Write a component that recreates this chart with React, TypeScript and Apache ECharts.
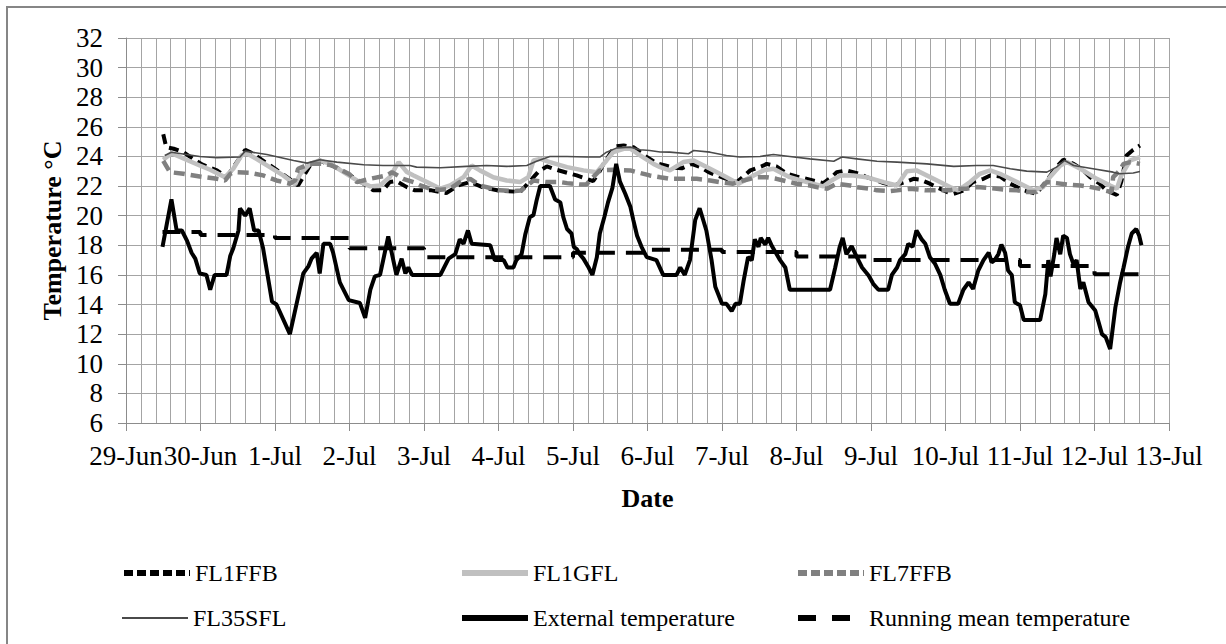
import React, { useEffect, useRef } from "react";
import * as echarts from "echarts";

// Day offsets are days since 29-Jun 00:00
const dateLabels = ["29-Jun", "30-Jun", "1-Jul", "2-Jul", "3-Jul", "4-Jul", "5-Jul", "6-Jul", "7-Jul", "8-Jul", "9-Jul", "10-Jul", "11-Jul", "12-Jul", "13-Jul"];
const seriesNames = ["FL1FFB", "FL1GFL", "FL7FFB", "FL35SFL", "External temperature", "Running mean temperature"];

const fl1ffb = [[0.50,25.5],[0.54,24.63],[0.64,24.52],[0.77,24.29],[0.90,23.84],[1.02,23.46],[1.22,23.06],[1.35,22.6],[1.60,24.45],[1.71,24.18],[1.82,23.78],[1.98,23.24],[2.11,22.79],[2.25,22.27],[2.31,22.04],[2.47,23.39],[2.60,23.73],[2.83,23.24],[3.01,22.72],[3.19,22.16],[3.32,21.71],[3.45,21.71],[3.54,22.27],[3.63,22.34],[3.77,21.93],[3.88,21.71],[4.10,21.71],[4.30,21.53],[4.46,22.04],[4.62,22.27],[4.80,21.9],[5.00,21.7],[5.29,21.6],[5.47,22.6],[5.54,23.0],[5.65,23.33],[5.78,23.1],[5.92,22.9],[6.05,22.72],[6.27,22.34],[6.34,22.83],[6.41,23.5],[6.56,24.67],[6.68,24.74],[6.81,24.63],[6.99,23.96],[7.12,23.55],[7.24,23.39],[7.35,23.24],[7.46,23.2],[7.59,23.5],[7.71,23.28],[7.82,22.94],[7.93,22.72],[8.11,22.38],[8.20,22.27],[8.38,23.06],[8.56,23.39],[8.60,23.5],[8.73,23.33],[8.87,22.83],[9.00,22.65],[9.18,22.43],[9.36,22.2],[9.47,22.6],[9.54,22.94],[9.67,23.06],[9.85,22.83],[9.94,22.6],[10.08,22.38],[10.17,22.2],[10.30,22.04],[10.46,22.27],[10.57,22.49],[10.66,22.43],[10.79,22.16],[10.88,21.93],[11.02,21.6],[11.11,21.48],[11.24,21.7],[11.37,22.27],[11.51,22.49],[11.60,22.72],[11.73,22.65],[11.87,22.16],[12.05,21.71],[12.22,21.48],[12.36,22.38],[12.49,23.28],[12.58,23.78],[12.72,23.5],[12.85,23.06],[12.94,22.6],[13.07,22.16],[13.16,21.71],[13.30,21.4],[13.36,22.3],[13.43,24.07],[13.52,24.45],[13.61,24.74]];

const fl1gfl = [[0.50,23.78],[0.61,24.22],[0.81,23.78],[0.99,23.39],[1.13,23.1],[1.33,22.6],[1.44,23.17],[1.55,24.07],[1.62,24.22],[1.75,23.84],[1.93,23.28],[2.11,22.72],[2.27,22.11],[2.34,22.83],[2.47,23.5],[2.60,23.73],[2.74,23.5],[2.92,22.94],[3.10,22.38],[3.28,21.98],[3.41,22.04],[3.54,22.6],[3.66,23.62],[3.77,22.95],[3.86,22.72],[4.04,22.27],[4.22,21.82],[4.35,22.04],[4.53,22.6],[4.64,23.39],[4.75,23.06],[4.93,22.6],[5.11,22.38],[5.29,22.27],[5.40,22.6],[5.47,23.73],[5.56,23.84],[5.69,23.62],[5.92,23.28],[6.14,23.06],[6.32,22.94],[6.45,23.73],[6.54,24.29],[6.68,24.52],[6.77,24.52],[6.90,24.07],[7.08,23.5],[7.17,23.28],[7.30,23.06],[7.48,23.62],[7.62,23.73],[7.84,23.17],[8.06,22.6],[8.22,22.16],[8.38,22.6],[8.56,23.06],[8.69,23.17],[8.91,22.6],[9.14,22.27],[9.36,21.98],[9.47,22.38],[9.59,22.72],[9.76,22.72],[9.94,22.6],[10.17,22.27],[10.35,22.04],[10.48,23.0],[10.61,23.06],[10.84,22.49],[11.06,21.93],[11.17,21.71],[11.33,22.27],[11.46,22.83],[11.60,23.06],[11.73,22.83],[11.96,22.27],[12.18,21.71],[12.31,21.93],[12.40,22.6],[12.54,23.39],[12.63,23.62],[12.81,23.17],[13.03,22.49],[13.21,22.04],[13.30,21.82],[13.36,22.72],[13.48,23.73],[13.61,23.96]];

const fl7ffb = [[0.50,23.7],[0.59,22.94],[0.77,22.83],[0.99,22.65],[1.22,22.49],[1.33,22.38],[1.40,22.83],[1.46,22.94],[1.66,22.9],[1.84,22.72],[2.02,22.38],[2.20,22.16],[2.27,22.38],[2.31,23.17],[2.47,23.5],[2.65,23.5],[2.76,23.4],[3.00,22.8],[3.10,22.27],[3.28,22.5],[3.50,22.72],[3.57,22.94],[3.72,22.49],[3.86,22.27],[3.95,22.04],[4.08,21.82],[4.22,21.75],[4.35,21.82],[4.48,22.27],[4.62,22.49],[4.75,22.04],[4.93,21.82],[5.02,21.71],[5.20,21.66],[5.30,21.7],[5.47,22.38],[5.65,22.27],[5.83,22.27],[5.92,22.2],[6.09,22.11],[6.18,22.11],[6.25,22.5],[6.36,23.06],[6.54,23.1],[6.77,23.06],[6.86,22.94],[7.03,22.72],[7.17,22.6],[7.30,22.49],[7.48,22.49],[7.66,22.49],[7.84,22.38],[7.97,22.27],[8.15,22.16],[8.29,22.38],[8.38,22.49],[8.47,22.6],[8.60,22.6],[8.73,22.49],[8.91,22.27],[9.00,22.16],[9.18,22.04],[9.27,21.93],[9.41,21.82],[9.54,22.16],[9.72,22.04],[9.81,21.93],[9.99,21.82],[10.08,21.71],[10.26,21.66],[10.35,21.71],[10.52,21.82],[10.75,21.71],[11.06,21.71],[11.15,21.82],[11.28,21.82],[11.42,21.93],[11.55,21.88],[11.69,21.82],[11.82,21.75],[11.96,21.71],[12.09,21.6],[12.22,21.6],[12.36,22.27],[12.49,22.2],[12.63,22.11],[12.81,22.04],[12.90,21.98],[13.07,21.82],[13.12,21.71],[13.23,21.6],[13.25,22.6],[13.34,23.06],[13.39,23.5],[13.48,23.62],[13.61,23.5]];

const fl35sfl = [[0.52,24.07],[0.61,24.29],[0.99,24.0],[1.22,23.91],[1.53,23.96],[1.60,24.36],[1.89,24.13],[2.25,23.73],[2.43,23.55],[2.60,23.78],[2.83,23.62],[3.19,23.44],[3.45,23.39],[3.81,23.39],[3.90,23.28],[4.22,23.24],[4.57,23.33],[4.84,23.39],[5.11,23.33],[5.38,23.39],[5.51,23.68],[5.69,24.0],[5.92,24.0],[6.18,23.96],[6.36,23.96],[6.45,24.29],[6.59,24.58],[6.77,24.63],[6.90,24.45],[7.03,24.4],[7.17,24.3],[7.30,24.29],[7.55,24.18],[7.62,24.4],[7.84,24.29],[8.06,24.07],[8.24,23.96],[8.51,24.0],[8.69,24.13],[8.91,24.0],[9.18,23.84],[9.50,23.68],[9.61,23.96],[9.81,23.84],[10.08,23.68],[10.35,23.62],[10.75,23.5],[11.11,23.33],[11.42,23.39],[11.64,23.39],[11.87,23.17],[12.09,23.01],[12.36,22.94],[12.49,23.28],[12.60,23.73],[12.72,23.39],[12.98,23.17],[13.25,22.94],[13.34,22.83],[13.52,22.88],[13.61,22.99]];

const externalTemp = [[0.49,17.9],[0.61,21.1],[0.68,19.0],[0.75,19.0],[0.82,18.3],[0.88,17.5],[0.93,17.1],[0.99,16.1],[1.08,16.0],[1.13,15.0],[1.19,16.0],[1.35,16.0],[1.40,17.3],[1.44,17.8],[1.51,19.0],[1.53,20.5],[1.60,20.0],[1.66,20.5],[1.72,19.0],[1.78,19.0],[1.84,17.8],[1.96,14.2],[2.02,14.0],[2.20,12.0],[2.38,16.1],[2.45,16.6],[2.49,17.1],[2.56,17.5],[2.60,16.1],[2.65,18.1],[2.74,18.1],[2.78,17.5],[2.87,15.5],[2.99,14.3],[3.14,14.1],[3.21,13.1],[3.28,15.0],[3.34,15.9],[3.41,16.0],[3.52,18.6],[3.63,16.0],[3.70,17.1],[3.75,16.1],[3.79,16.5],[3.84,16.0],[4.22,16.0],[4.33,17.1],[4.42,17.4],[4.48,18.4],[4.53,18.1],[4.59,19.0],[4.64,18.1],[4.89,18.0],[4.95,17.0],[5.07,17.0],[5.12,16.5],[5.20,16.5],[5.24,17.0],[5.31,17.4],[5.36,18.75],[5.42,19.9],[5.47,20.05],[5.51,21.0],[5.56,22.0],[5.69,22.0],[5.76,21.1],[5.83,20.9],[5.87,19.9],[5.92,19.1],[5.98,18.8],[6.01,17.9],[6.05,17.75],[6.09,17.4],[6.14,17.1],[6.21,16.5],[6.26,16.0],[6.32,17.2],[6.36,18.8],[6.42,19.9],[6.47,20.9],[6.53,21.9],[6.58,23.5],[6.63,22.3],[6.70,21.5],[6.77,20.6],[6.81,19.7],[6.86,18.65],[6.92,17.9],[6.99,17.2],[7.12,17.0],[7.21,16.0],[7.39,16.0],[7.44,16.5],[7.50,16.0],[7.57,17.0],[7.64,19.7],[7.70,20.5],[7.79,19.0],[7.86,17.0],[7.91,15.2],[7.95,14.7],[8.00,14.05],[8.06,14.05],[8.13,13.55],[8.18,14.05],[8.24,14.05],[8.29,15.6],[8.35,17.2],[8.40,17.0],[8.44,18.4],[8.49,17.9],[8.52,18.5],[8.58,18.05],[8.62,18.5],[8.67,17.95],[8.71,17.6],[8.78,17.0],[8.85,16.5],[8.91,15.0],[9.45,15.0],[9.52,16.5],[9.58,17.9],[9.62,18.5],[9.67,17.4],[9.74,17.95],[9.81,17.2],[9.88,16.5],[9.97,15.95],[10.03,15.4],[10.10,15.0],[10.23,15.0],[10.28,16.0],[10.35,16.5],[10.39,17.0],[10.46,17.4],[10.50,18.1],[10.56,17.9],[10.61,19.0],[10.68,18.4],[10.73,18.1],[10.79,17.2],[10.86,16.75],[10.93,16.0],[10.99,15.0],[11.06,14.05],[11.17,14.05],[11.24,15.0],[11.31,15.5],[11.37,15.05],[11.44,16.3],[11.51,17.0],[11.58,17.5],[11.62,16.85],[11.66,17.0],[11.71,17.4],[11.75,18.05],[11.80,17.5],[11.84,16.3],[11.89,16.0],[11.93,14.15],[12.00,13.95],[12.05,12.95],[12.27,12.95],[12.34,14.7],[12.38,17.0],[12.41,15.9],[12.46,17.4],[12.49,18.5],[12.54,17.4],[12.58,18.65],[12.63,18.5],[12.67,17.4],[12.72,16.7],[12.76,17.0],[12.81,15.05],[12.85,15.5],[12.92,14.15],[13.01,13.6],[13.05,12.9],[13.10,12.0],[13.15,11.8],[13.21,11.0],[13.28,13.8],[13.34,15.4],[13.39,16.5],[13.45,17.9],[13.50,18.8],[13.56,19.1],[13.60,18.65],[13.63,18.0]];

// daily running mean, value holds until next entry
const runningMean = [[0.49,18.9],[1,18.7],[2,18.5],[3,17.8],[4,17.2],[5,17.2],[6,17.5],[7,17.7],[8,17.55],[9,17.25],[10,17.0],[11,17.0],[12,16.6],[13,16.05],[13.63,16.05]];

const FONT = "'Liberation Serif', 'Times New Roman', serif";
const GRID_COLOR = "#a4a4a4";
const AXIS_COLOR = "#8c8c8c";

export default function App() {
  const ref = useRef<HTMLDivElement>(null);
  useEffect(() => {
    if (!ref.current) return;
    const chart = echarts.init(ref.current, undefined, { renderer: "svg" });
    const styles = [
      { data: fl1ffb, color: "#000000", width: 4, type: [10, 6] as any, legendType: [9, 4] as any },
      { data: fl1gfl, color: "#c0c0c0", width: 4.5, type: "solid" as any, legendType: "solid" as any },
      { data: fl7ffb, color: "#808080", width: 4.5, type: [11, 6] as any, legendType: [9, 4] as any },
      { data: fl35sfl, color: "#4a4a4a", width: 1.6, type: "solid" as any, legendType: "solid" as any },
      { data: externalTemp, color: "#000000", width: 4, type: "solid" as any, legendType: "solid" as any },
      { data: runningMean, color: "#000000", width: 4, type: [18, 11] as any, legendType: [18, 16] as any, step: "end" },
    ];
    const legendWidths = [6, 6, 6, 2, 6, 6];
    const legendLeft = [121, 459, 795];
    const legendTop = [561, 606];
    const option: any = {
      animation: false,
      textStyle: { fontFamily: FONT },
      grid: { left: 126, top: 38, right: 57, bottom: 221, containLabel: false },
      graphic: [
        {
          type: "rect",
          shape: { x: 7, y: 7, width: 1240, height: 660 },
          style: { fill: "none", stroke: "#868686", lineWidth: 2 },
          silent: true,
        },
      ],
      legend: seriesNames.map((name, i) => ({
        data: [name],
        left: legendLeft[i % 3],
        top: legendTop[Math.floor(i / 3)],
        itemWidth: 66,
        itemHeight: 14,
        padding: 0,
        selectedMode: false,
        itemStyle: { opacity: 0, borderWidth: 0 },
        lineStyle: { width: legendWidths[i], type: styles[i].legendType, color: styles[i].color },
        textStyle: { fontFamily: FONT, fontSize: 24, color: "#000" },
      })),
      xAxis: {
        type: "value",
        min: 0,
        max: 14,
        interval: 1,
        name: "Date",
        nameLocation: "middle",
        nameGap: 62,
        nameTextStyle: { fontFamily: FONT, fontSize: 26, fontWeight: "bold", color: "#000" },
        axisLine: { show: true, onZero: false, lineStyle: { color: AXIS_COLOR, width: 1 } },
        axisTick: { show: true, length: 8, lineStyle: { color: AXIS_COLOR } },
        axisLabel: {
          fontFamily: FONT,
          fontSize: 27,
          color: "#000",
          margin: 19,
          formatter: (v: number) => dateLabels[Math.round(v)] ?? "",
        },
        splitLine: { show: true, lineStyle: { color: GRID_COLOR, width: 1 } },
        minorTick: { show: false, splitNumber: 5 },
        minorSplitLine: { show: true, lineStyle: { color: GRID_COLOR, width: 1 } },
      },
      yAxis: {
        type: "value",
        min: 6,
        max: 32,
        interval: 2,
        name: "Temperature °C",
        nameLocation: "middle",
        nameGap: 56,
        nameRotate: 90,
        nameTextStyle: { fontFamily: FONT, fontSize: 26, fontWeight: "bold", color: "#000" },
        axisLine: { show: true, lineStyle: { color: AXIS_COLOR, width: 1 } },
        axisTick: { show: true, length: 8, lineStyle: { color: AXIS_COLOR } },
        axisLabel: { fontFamily: FONT, fontSize: 27, color: "#000", margin: 23 },
        splitLine: { show: true, lineStyle: { color: GRID_COLOR, width: 1 } },
      },
      series: seriesNames.map((name, i) => ({
        name,
        type: "line",
        data: styles[i].data,
        symbol: "none",
        showSymbol: false,
        step: (styles[i] as any).step ?? false,
        lineStyle: { color: styles[i].color, width: styles[i].width, type: styles[i].type },
        itemStyle: { color: styles[i].color },
        emphasis: { disabled: true },
      })),
    };
    chart.setOption(option);
    return () => chart.dispose();
  }, []);
  return (
    <div
      ref={ref}
      style={{ position: "absolute", left: 0, top: 0, width: 1226, height: 644, background: "#fff" }}
    />
  );
}
